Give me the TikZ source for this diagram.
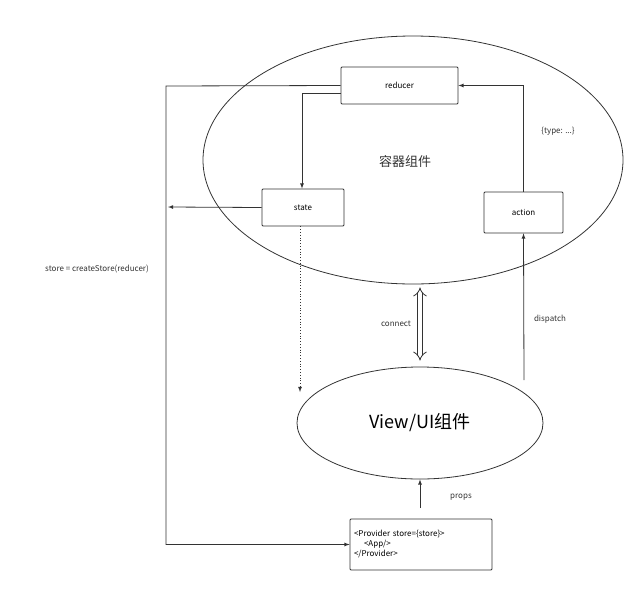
\documentclass[tikz,border=0pt]{standalone}
\usepackage{fontspec}
\setmainfont{Noto Sans CJK SC}
\usetikzlibrary{arrows,arrows.meta,shapes,calc}

\begin{document}
\begin{tikzpicture}[x=1pt,y=-1pt]
\tikzstyle{box}=[rectangle, draw=black!80, thick, rounded corners=1pt, font=\fontsize{8}{10}\selectfont]
\tikzstyle{area}=[ellipse, draw=black!80, thick]
\tikzstyle{connect}=[-latex, thick, draw=black!80]
\tikzstyle{lbl}=[font=\fontsize{8}{10}\selectfont, text=black!80]
\useasboundingbox (0,0) rectangle (640,592);

  \node[area, minimum width=420pt, minimum height=248pt] (store) at (413,160) {};
  \node[area, minimum width=246pt, minimum height=112pt, font=\fontsize{18}{20}\selectfont] (view) at (420,423) {View/UI组件};
  \node[font=\fontsize{13}{15}\selectfont, text=black!80] (title) at (405,162) {容器组件};

  \node[box, minimum width=117pt, minimum height=37pt] (reducer) at (399.5,85.5) {reducer};
  \node[box, minimum width=82pt, minimum height=37pt] (state) at (303,207.5) {state};
  \node[box, minimum width=79pt, minimum height=41pt] (action) at (523.5,212.5) {action};
  \node[box, minimum width=142pt, minimum height=51pt, align=left, text width=134pt] (provider) at (421,544.5)
    {<Provider store=\{store\}>\\\hspace*{10pt}<App/>\\</Provider>};

  \coordinate (lefttop) at (166,86);
  \coordinate (leftmid) at (168,207);
  \coordinate (dispatchstart) at (524,380);
  \coordinate (propsstart) at (420,508);
  \coordinate (dotend) at (300,392);

  \node[lbl] (type) at (558,131) {\{type: ...\}};
  \node[lbl] (connectlbl) at (396,324) {connect};
  \node[lbl] (dispatchlbl) at (550,319) {dispatch};
  \node[lbl] (propslbl) at (461,497) {props};
  \node[lbl] (createlbl) at (97,269) {store = createStore(reducer)};

  \draw[connect] (reducer.west) -- (lefttop) |- (provider.west);
  \draw[connect] (state.west) -- (leftmid);
  \draw[connect] ($(reducer.west)+(0,8)$) -| ($(state.north)+(-1,0)$);
  \draw[connect] (action.north) |- (reducer.east);
  \draw[connect] (dispatchstart) -- (action.south);
  \draw[connect] (propsstart) -- (view.south);
  \draw[connect, dotted] ($(state.south)+(-3,0)$) -- (dotend);
  \draw[double=white, double distance=4pt, thick, black!80, {Implies}-{Implies}] ($(store.south)+(7,3)$) -- ($(view.north)+(0,-6)$);

\end{tikzpicture}
\end{document}
